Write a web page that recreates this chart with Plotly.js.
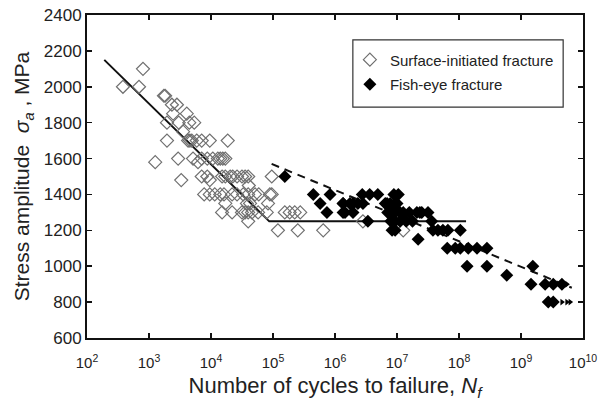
<!DOCTYPE html>
<html><head><meta charset="utf-8">
<script src="https://cdn.plot.ly/plotly-3.0.1.min.js"></script>
<style>html,body{margin:0;padding:0;background:#fff}#chart{width:601px;height:401px}</style>
</head><body><div id="chart"></div>
<script>
// Surface-initiated fracture (open diamonds): cycles, stress (MPa)
const surfN = [380,690,800,1740,1820,2340,2820,2450,4070,1950,3020,4470,5370,3550,
  1950,4270,4570,4900,5890,7080,9550,18600,
  1260,2950,5130,6170,7080,8710,10700,12900,14100,15500,17000,
  3310,7080,8710,9550,15100,17000,20400,22400,26300,31600,35500,39800,40700,95500,
  7760,9550,11500,14100,16200,21900,26300,33100,39800,51300,58900,89100,95500,
  17000,38000,42700,83200,
  15100,21900,31600,35500,39800,45700,57500,79400,
  39800,
  120000,251000,646000,12600000,
  155000,186000,224000,275000,2820000];
const surfS = [2000,2000,2100,1950,1950,1900,1900,1850,1850,1800,1800,1800,1800,1750,
  1700,1700,1700,1700,1700,1700,1700,1700,
  1580,1600,1600,1580,1600,1600,1600,1600,1600,1600,1600,
  1480,1500,1500,1480,1500,1500,1500,1500,1500,1500,1500,1500,1450,1500,
  1400,1400,1400,1400,1400,1400,1400,1400,1400,1400,1400,1400,1400,
  1350,1350,1350,1350,
  1300,1300,1300,1300,1300,1300,1300,1300,
  1250,
  1200,1200,1200,1200,
  1300,1300,1300,1300,1250];

// Fish-eye fracture (filled diamonds)
const fishN = [155000,447000,832000,575000,741000,1350000,1450000,1350000,1950000,
  1350000,1740000,1950000,2340000,2820000,2750000,3630000,4900000,3390000,
  6460000,6920000,7760000,9330000,10000000,7760000,8910000,10500000,
  7080000,8320000,9330000,11200000,12600000,7940000,9330000,11200000,14100000,
  8320000,9330000,15800000,17800000,20900000,23400000,25100000,31600000,36300000,
  21900000,38000000,45700000,55000000,66100000,105000000,
  64600000,87100000,105000000,141000000,195000000,282000000,
  135000000,282000000,1550000000,589000000,
  1450000000,2450000000,3310000000,4570000000,2750000000,3310000000];
const fishS = [1500,1400,1400,1350,1300,1350,1300,1300,1300,
  1350,1350,1350,1350,1350,1400,1400,1400,1250,
  1350,1350,1350,1350,1350,1300,1400,1400,
  1300,1300,1300,1300,1300,1250,1250,1250,1250,
  1200,1200,1300,1250,1300,1300,1300,1300,1250,
  1150,1200,1200,1200,1200,1200,
  1100,1100,1100,1100,1100,1100,
  1000,1000,1000,950,
  900,900,900,900,800,800];

// Run-out arrows
const runN = [5500000000,4570000000,5500000000,6200000000];
const runS = [900,800,800,800];

// Fitted lines
const fitAN = [190,87000,130000000];
const fitAS = [2150,1250,1250];
const fitBN = [95000,6600000000];
const fitBS = [1570,880];

const xTickVals = [1e2,1e3,1e4,1e5,1e6,1e7,1e8,1e9,1e10];
const xTickText = ['10<sup>2</sup>','10<sup>3</sup>','10<sup>4</sup>','10<sup>5</sup>','10<sup>6</sup>','10<sup>7</sup>','10<sup>8</sup>','10<sup>9</sup>','10<sup>10</sup>'];

const traces = [
  {x: fitAN, y: fitAS, mode:'lines', line:{color:'#111', width:2}, showlegend:false, hoverinfo:'skip'},
  {x: fitBN, y: fitBS, mode:'lines', line:{color:'#111', width:2, dash:'8px,6px'}, showlegend:false, hoverinfo:'skip'},
  {x: surfN, y: surfS, mode:'markers', name:'Surface-initiated fracture', legendgroup:'a',
   marker:{symbol:'diamond-open', size:10, color:'#707070', line:{width:1.2}}},
  {x: fishN, y: fishS, mode:'markers', name:'Fish-eye fracture', legendgroup:'b',
   marker:{symbol:'diamond', size:10, color:'#000'}},
  {x: runN, y: runS, mode:'markers', showlegend:false,
   marker:{symbol:'triangle-right', size:6, color:'#000'}}
];

const font = {family:'"Liberation Sans", Arial, sans-serif', color:'#222'};
const layout = {
  width:601, height:401,
  margin:{l:87, r:18, t:15, b:63},
  paper_bgcolor:'#fff', plot_bgcolor:'#fff',
  font: font,
  showlegend:true,
  legend:{x:0.53, y:0.912, xanchor:'left', yanchor:'top', traceorder:'grouped', tracegroupgap:2,
    borderwidth:0, bgcolor:'rgba(0,0,0,0)', itemwidth:30,
    font:{family:font.family, size:15, color:'#222'}},
  shapes:[{type:'rect', xref:'paper', yref:'paper', x0:0.536, x1:0.960, y0:0.715, y1:0.923,
    line:{color:'#333', width:1.2}, fillcolor:'rgba(0,0,0,0)', layer:'below'}],
  xaxis:{type:'log', range:[2,10], tickvals:xTickVals, ticktext:xTickText,
    ticks:'inside', ticklen:5, tickwidth:1.5, tickcolor:'#111', ticklabelstandoff:10,
    showline:true, linecolor:'#111', linewidth:2, mirror:'ticks', showgrid:false, zeroline:false,
    tickfont:{family:font.family, size:15, color:'#222'},
    title:{text:'Number of cycles to failure, <i>N<sub>f</sub></i>', font:{family:font.family, size:22, color:'#222'}, standoff:14}},
  yaxis:{range:[600,2400], dtick:200, tick0:600,
    ticks:'inside', ticklen:5, tickwidth:1.5, tickcolor:'#111',
    showline:true, linecolor:'#111', linewidth:2, mirror:'ticks', showgrid:false, zeroline:false,
    tickfont:{family:font.family, size:17, color:'#222'},
    title:{text:'Stress amplitude  <i>σ<sub>a</sub></i> , MPa', font:{family:font.family, size:21, color:'#222'}, standoff:8}}
};
Plotly.newPlot('chart', traces, layout, {displayModeBar:false, staticPlot:true});
</script></body></html>
